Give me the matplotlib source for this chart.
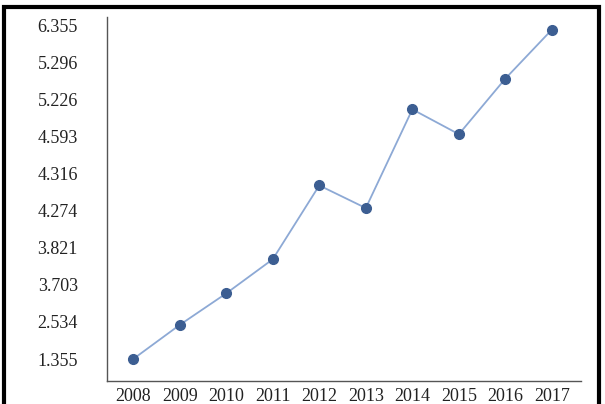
import matplotlib
matplotlib.use("Agg")
import matplotlib.pyplot as plt
from matplotlib.patches import Rectangle

# ─── DATA ─────────────────────────────────────────────────────────────────────
years = ["2008", "2009", "2010", "2011", "2012",
         "2013", "2014", "2015", "2016", "2017"]
# y tick labels as printed on the chart (evenly spaced, bottom to top)
y_labels = ["1.355", "2.534", "3.703", "3.821", "4.274",
            "4.316", "4.593", "5.226", "5.296", "6.355"]
# point heights, measured in tick-slot units (0 = first label, 9 = last)
y_pos = [0.00, 0.92, 1.77, 2.69, 4.68, 4.07, 6.73, 6.06, 7.56, 8.88]

LINE_C = "#8DA9D5"
MARK_C = "#3C5E92"
SPINE_C = "#555555"

plt.rcParams["font.family"] = ["Liberation Serif", "DejaVu Serif"]

fig = plt.figure(figsize=(6.05, 4.04), dpi=100)
ax = fig.add_axes([0.177, 0.057, 0.783, 0.901])

x = list(range(len(years)))
ax.plot(x, y_pos, "-", color=LINE_C, lw=1.3, zorder=2)
ax.plot(x, y_pos, "o", color=MARK_C, ms=7, zorder=3)

ax.set_xlim(-0.56, 9.62)
ax.set_ylim(-0.59, 9.22)
ax.set_xticks(x)
ax.set_xticklabels(years, fontsize=13)
ax.set_yticks(range(len(y_labels)))
ax.set_yticklabels(y_labels, fontsize=13)
ax.tick_params(axis="both", length=0, colors="#222222")
ax.tick_params(axis="y", pad=21)
ax.tick_params(axis="x", pad=5)

for s in ("top", "right"):
    ax.spines[s].set_visible(False)
for s in ("left", "bottom"):
    ax.spines[s].set_color(SPINE_C)
    ax.spines[s].set_linewidth(1.0)

# outer frame around the figure (bottom edge falls outside the image)
fig.patches.append(Rectangle((0.0066, -0.05), 0.9834, 1.0333,
                             transform=fig.transFigure, fill=False,
                             edgecolor="black", lw=3))

fig.savefig("out.png", dpi=100)
